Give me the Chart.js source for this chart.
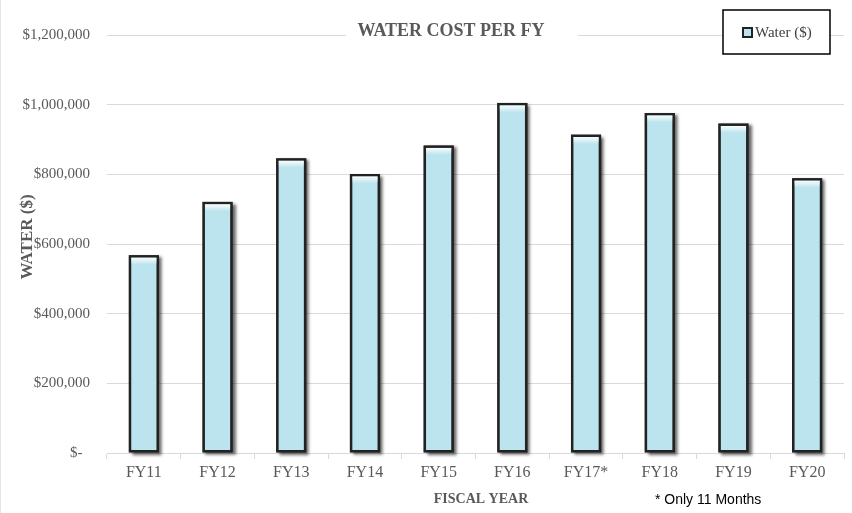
<!DOCTYPE html>
<html>
<head>
<meta charset="utf-8">
<title>Water Cost per FY</title>
<script src="https://cdn.jsdelivr.net/npm/chart.js@4.4.1/dist/chart.umd.min.js"></script>
<style>
  html, body { margin: 0; padding: 0; background: #fff; }
  #wrap { width: 852px; height: 513px; position: relative; }
</style>
</head>
<body>
<div id="wrap"><canvas id="waterChart" width="852" height="513"></canvas></div>
<script>
// values
const fiscalYears = ["FY11", "FY12", "FY13", "FY14", "FY15", "FY16", "FY17*", "FY18", "FY19", "FY20"];
const waterCost = [568000, 721000, 846000, 801000, 883000, 1005000, 914000, 976000, 946000, 789000];
const yTickValues = [0, 200000, 400000, 600000, 800000, 1000000, 1200000];

const chartTitle = "WATER COST PER FY";
const yAxisTitle = "WATER ($)";
const xAxisTitle = "FISCAL YEAR";
const footNote = "* Only 11 Months";

const GRAY = "#595959";
const GRID = "#d9d9d9";
const BAR_FILL = "#bce4ee";
const BAR_EDGE = "#222222";

function money(v) {
  if (v === 0) return "$-  ";
  return "$" + v.toLocaleString("en-US");
}

// the bar element clips itself, so the drop shadow is painted underneath first
const barShadow = {
  id: "barShadow",
  beforeDatasetsDraw(chart) {
    const ctx = chart.ctx;
    const meta = chart.getDatasetMeta(0);
    ctx.save();
    ctx.shadowColor = "rgba(0, 0, 0, 0.6)";
    ctx.shadowBlur = 3;
    ctx.shadowOffsetX = 3;
    ctx.shadowOffsetY = 2;
    ctx.fillStyle = BAR_EDGE;
    meta.data.forEach((bar) => {
      ctx.fillRect(bar.x - bar.width / 2, bar.y, bar.width, bar.base - bar.y);
    });
    ctx.restore();
  },
  afterDatasetsDraw(chart) {
    const ctx = chart.ctx;
    // small glossy strip at the top of each bar
    const meta = chart.getDatasetMeta(0);
    ctx.save();
    meta.data.forEach((bar) => {
      const left = bar.x - bar.width / 2 + 2.5;
      const w = bar.width - 5;
      const top = bar.y + 2.5;
      const g = ctx.createLinearGradient(0, top, 0, top + 7);
      g.addColorStop(0, "rgba(255, 255, 255, 0.9)");
      g.addColorStop(1, "rgba(255, 255, 255, 0)");
      ctx.fillStyle = g;
      ctx.fillRect(left, top, w, 7);
    });
    ctx.restore();
  }
};

const decorations = {
  id: "decorations",
  afterDraw(chart) {
    const ctx = chart.ctx;
    ctx.save();

    // faint outer edge
    ctx.strokeStyle = "#e6e6e6";
    ctx.lineWidth = 1;
    ctx.beginPath();
    ctx.moveTo(0.5, 0);
    ctx.lineTo(0.5, 513);
    ctx.stroke();

    // title sitting on the top grid line
    ctx.fillStyle = "#fff";
    ctx.fillRect(346, 22, 232, 26);
    ctx.font = "bold 18px 'Liberation Serif'";
    ctx.fillStyle = GRAY;
    ctx.textAlign = "center";
    ctx.textBaseline = "middle";
    ctx.fillText(chartTitle, 451, 31);

    // legend box
    ctx.fillStyle = "#fff";
    ctx.fillRect(723, 10, 107, 44);
    ctx.strokeStyle = "#000";
    ctx.lineWidth = 1.5;
    ctx.strokeRect(723, 10, 107, 44);
    ctx.fillStyle = BAR_FILL;
    ctx.fillRect(743, 28, 9, 9);
    ctx.strokeStyle = BAR_EDGE;
    ctx.lineWidth = 2;
    ctx.strokeRect(743, 28, 9, 9);
    ctx.font = "15px 'Liberation Serif'";
    ctx.fillStyle = "#404040";
    ctx.textAlign = "left";
    ctx.fillText(chart.data.datasets[0].label, 755, 33);

    // y axis title
    ctx.save();
    ctx.translate(28, 237);
    ctx.rotate(-Math.PI / 2);
    ctx.font = "bold 17px 'Liberation Serif'";
    ctx.fillStyle = GRAY;
    ctx.textAlign = "center";
    ctx.fillText(yAxisTitle, 0, 0);
    ctx.restore();

    // x axis title
    ctx.font = "bold 14px 'Liberation Serif'";
    ctx.fillStyle = GRAY;
    ctx.textAlign = "center";
    ctx.fillText(xAxisTitle, 481, 499);

    // footnote
    ctx.font = "14px 'Liberation Sans'";
    ctx.fillStyle = "#000";
    ctx.textAlign = "left";
    ctx.fillText(footNote, 655, 500);

    ctx.restore();
  }
};

const ctx = document.getElementById("waterChart").getContext("2d");
const waterChart = new Chart(ctx, {
  type: "bar",
  plugins: [barShadow, decorations],
  data: {
    labels: fiscalYears,
    datasets: [
      {
        label: "Water ($)",
        data: waterCost,
        backgroundColor: BAR_FILL,
        borderColor: BAR_EDGE,
        borderWidth: 2.5,
        borderSkipped: false,
        barPercentage: 0.41,
        categoryPercentage: 1
      }
    ]
  },
  options: {
    responsive: false,
    animation: false,
    layout: {
      padding: { left: 0, right: 8, top: 35, bottom: 0 }
    },
    plugins: {
      legend: { display: false },
      title: { display: false },
      tooltip: { enabled: false }
    },
    scales: {
      x: {
        offset: true,
        grid: {
          drawOnChartArea: false,
          drawTicks: true,
          tickLength: 6,
          color: GRID,
          offset: true
        },
        border: { color: GRID, width: 1 },
        ticks: {
          color: GRAY,
          padding: 4,
          font: { family: "'Liberation Serif'", size: 16 }
        },
        afterFit(scale) {
          scale.height = 60;
        }
      },
      y: {
        min: 0,
        max: 1200000,
        afterBuildTicks(scale) {
          scale.ticks = yTickValues.map((v) => ({ value: v }));
        },
        grid: {
          color: GRID,
          lineWidth: 1,
          drawTicks: false
        },
        border: { display: false },
        ticks: {
          color: GRAY,
          padding: 17,
          font: { family: "'Liberation Serif'", size: 15 },
          callback: (value) => money(value)
        },
        afterFit(scale) {
          scale.width = 107;
        }
      }
    }
  }
});
</script>
</body>
</html>
